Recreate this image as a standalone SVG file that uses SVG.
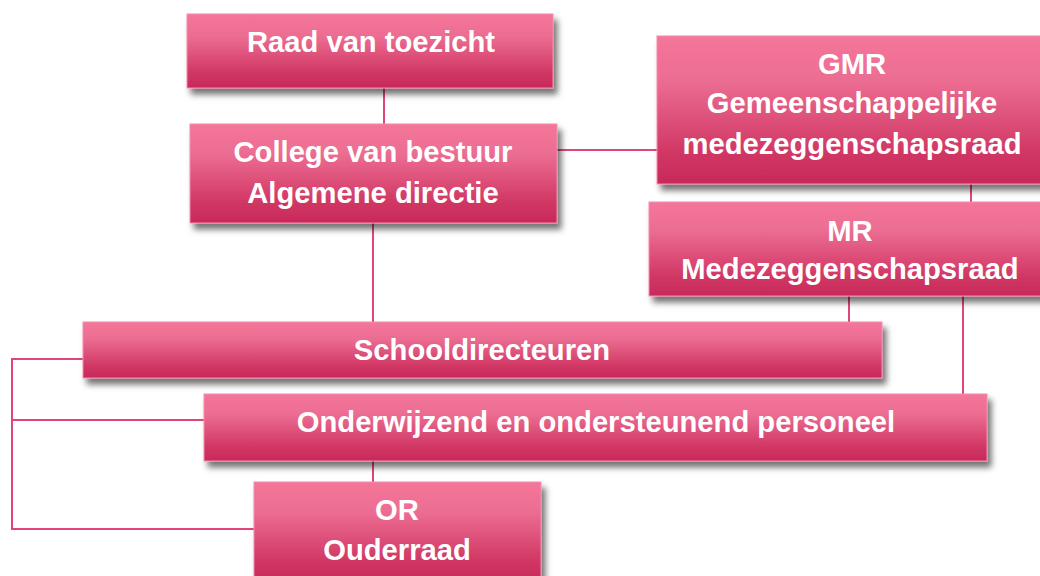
<svg xmlns="http://www.w3.org/2000/svg" width="1040" height="576" viewBox="0 0 1040 576">
<style>
.box{fill:url(#g);filter:url(#sh);stroke:#f48cad;stroke-width:1}
.t{font-family:"Liberation Sans",Arial,sans-serif;font-weight:bold;font-size:29.2px;fill:#ffffff;text-anchor:middle}
.c{stroke:#e3457a;stroke-width:2;fill:none}
</style>
<defs>
<linearGradient id="g" x1="0" y1="0" x2="0" y2="1">
<stop offset="0" stop-color="#f47699"/>
<stop offset="0.3" stop-color="#ec6d92"/>
<stop offset="0.8" stop-color="#d03663"/>
<stop offset="1" stop-color="#c8295a"/>
</linearGradient>
<filter id="sh" x="-10%" y="-20%" width="120%" height="150%">
<feDropShadow dx="4" dy="6" stdDeviation="3" flood-color="#000" flood-opacity="0.55"/>
</filter>
</defs>
<rect width="1040" height="576" fill="#ffffff"/>
<g id="connectors">
<line class="c" x1="384" y1="88" x2="384" y2="124"/>
<line class="c" x1="373" y1="223" x2="373" y2="322"/>
<line class="c" x1="557" y1="150" x2="657" y2="150"/>
<line class="c" x1="971" y1="184" x2="971" y2="202"/>
<line class="c" x1="849" y1="296" x2="849" y2="322"/>
<line class="c" x1="963" y1="296" x2="963" y2="394"/>
<line class="c" x1="373" y1="461" x2="373" y2="482"/>
<polyline class="c" points="83,359 12,359 12,529 254,529"/>
<line class="c" x1="12" y1="420" x2="204" y2="420"/>
</g>
<g id="raad">
<rect class="box" x="187" y="14" width="366" height="74"/>
<text class="t" x="371" y="52">Raad van toezicht</text>
</g>
<g id="college">
<rect class="box" x="190" y="124" width="367" height="99"/>
<text class="t" x="373" y="162">College van bestuur</text>
<text class="t" x="373" y="203">Algemene directie</text>
</g>
<g id="gmr">
<rect class="box" x="657" y="36" width="392" height="148"/>
<text class="t" x="852" y="74">GMR</text>
<text class="t" x="852" y="113">Gemeenschappelijke</text>
<text class="t" x="852" y="154">medezeggenschapsraad</text>
</g>
<g id="mr">
<rect class="box" x="649" y="202" width="400" height="94"/>
<text class="t" x="850" y="241">MR</text>
<text class="t" x="850" y="279">Medezeggenschapsraad</text>
</g>
<g id="schooldirecteuren">
<rect class="box" x="83" y="322" width="799" height="56"/>
<text class="t" x="482" y="360">Schooldirecteuren</text>
</g>
<g id="personeel">
<rect class="box" x="204" y="394" width="783" height="67"/>
<text class="t" x="596" y="432">Onderwijzend en ondersteunend personeel</text>
</g>
<g id="or">
<rect class="box" x="254" y="482" width="287" height="100"/>
<text class="t" x="397" y="520">OR</text>
<text class="t" x="397" y="560">Ouderraad</text>
</g>
</svg>
